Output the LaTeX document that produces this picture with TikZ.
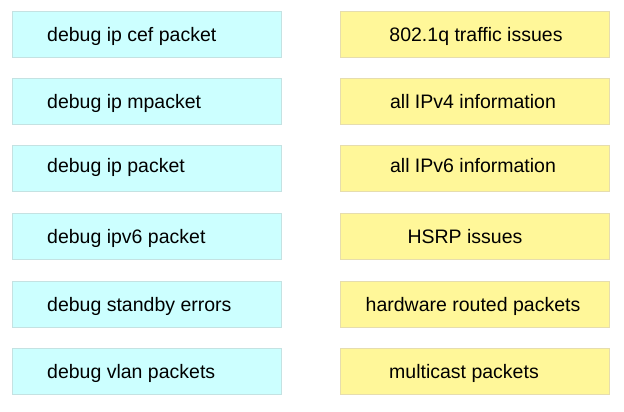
\documentclass[tikz,border=0pt]{standalone}
\usepackage{fontspec}
\setmainfont{Liberation Sans}
\definecolor{cfill}{HTML}{CCFFFF}
\definecolor{cdraw}{HTML}{C4E2E2}
\definecolor{yfill}{HTML}{FFF799}
\definecolor{ydraw}{HTML}{E6DDAE}
\begin{document}
\begin{tikzpicture}[x=1pt,y=-1pt,
  lbox/.style={draw=cdraw,fill=cfill,line width=1pt,minimum width=269pt,minimum height=46pt,inner sep=0pt,anchor=north west},
  rbox/.style={draw=ydraw,fill=yfill,line width=1pt,minimum width=269pt,minimum height=46pt,inner sep=0pt,anchor=north west},
  ltxt/.style={anchor=west,font=\fontsize{19.5}{22}\selectfont,inner sep=0pt},
  rtxt/.style={anchor=center,font=\fontsize{19.5}{22}\selectfont,inner sep=0pt}]
\useasboundingbox (0,0) rectangle (624,412);
\foreach \i/\y/\ts/\xs/\lt/\rt in {1/11/-3/1/debug ip cef packet/802.1q traffic issues,
  2/78/-3/-2/debug ip mpacket/all IPv4 information,
  3/145/0/-2/debug ip packet/all IPv6 information,
  4/213/-3/-10/debug ipv6 packet/HSRP issues,
  5/281/-3/-2/debug standby errors/hardware routed packets,
  6/348/-3/-11/debug vlan packets/multicast packets}{
  \node[lbox] (l\i) at (12,\y) {};
  \node[rbox] (r\i) at (340,\y) {};
  \node[ltxt] (lt\i) at ([xshift=35pt,yshift=\ts pt]l\i.west) {\strut\lt};
  \node[rtxt] (rt\i) at ([xshift=\xs pt,yshift=\ts pt]r\i.center) {\strut\rt};
}
\end{tikzpicture}
\end{document}
